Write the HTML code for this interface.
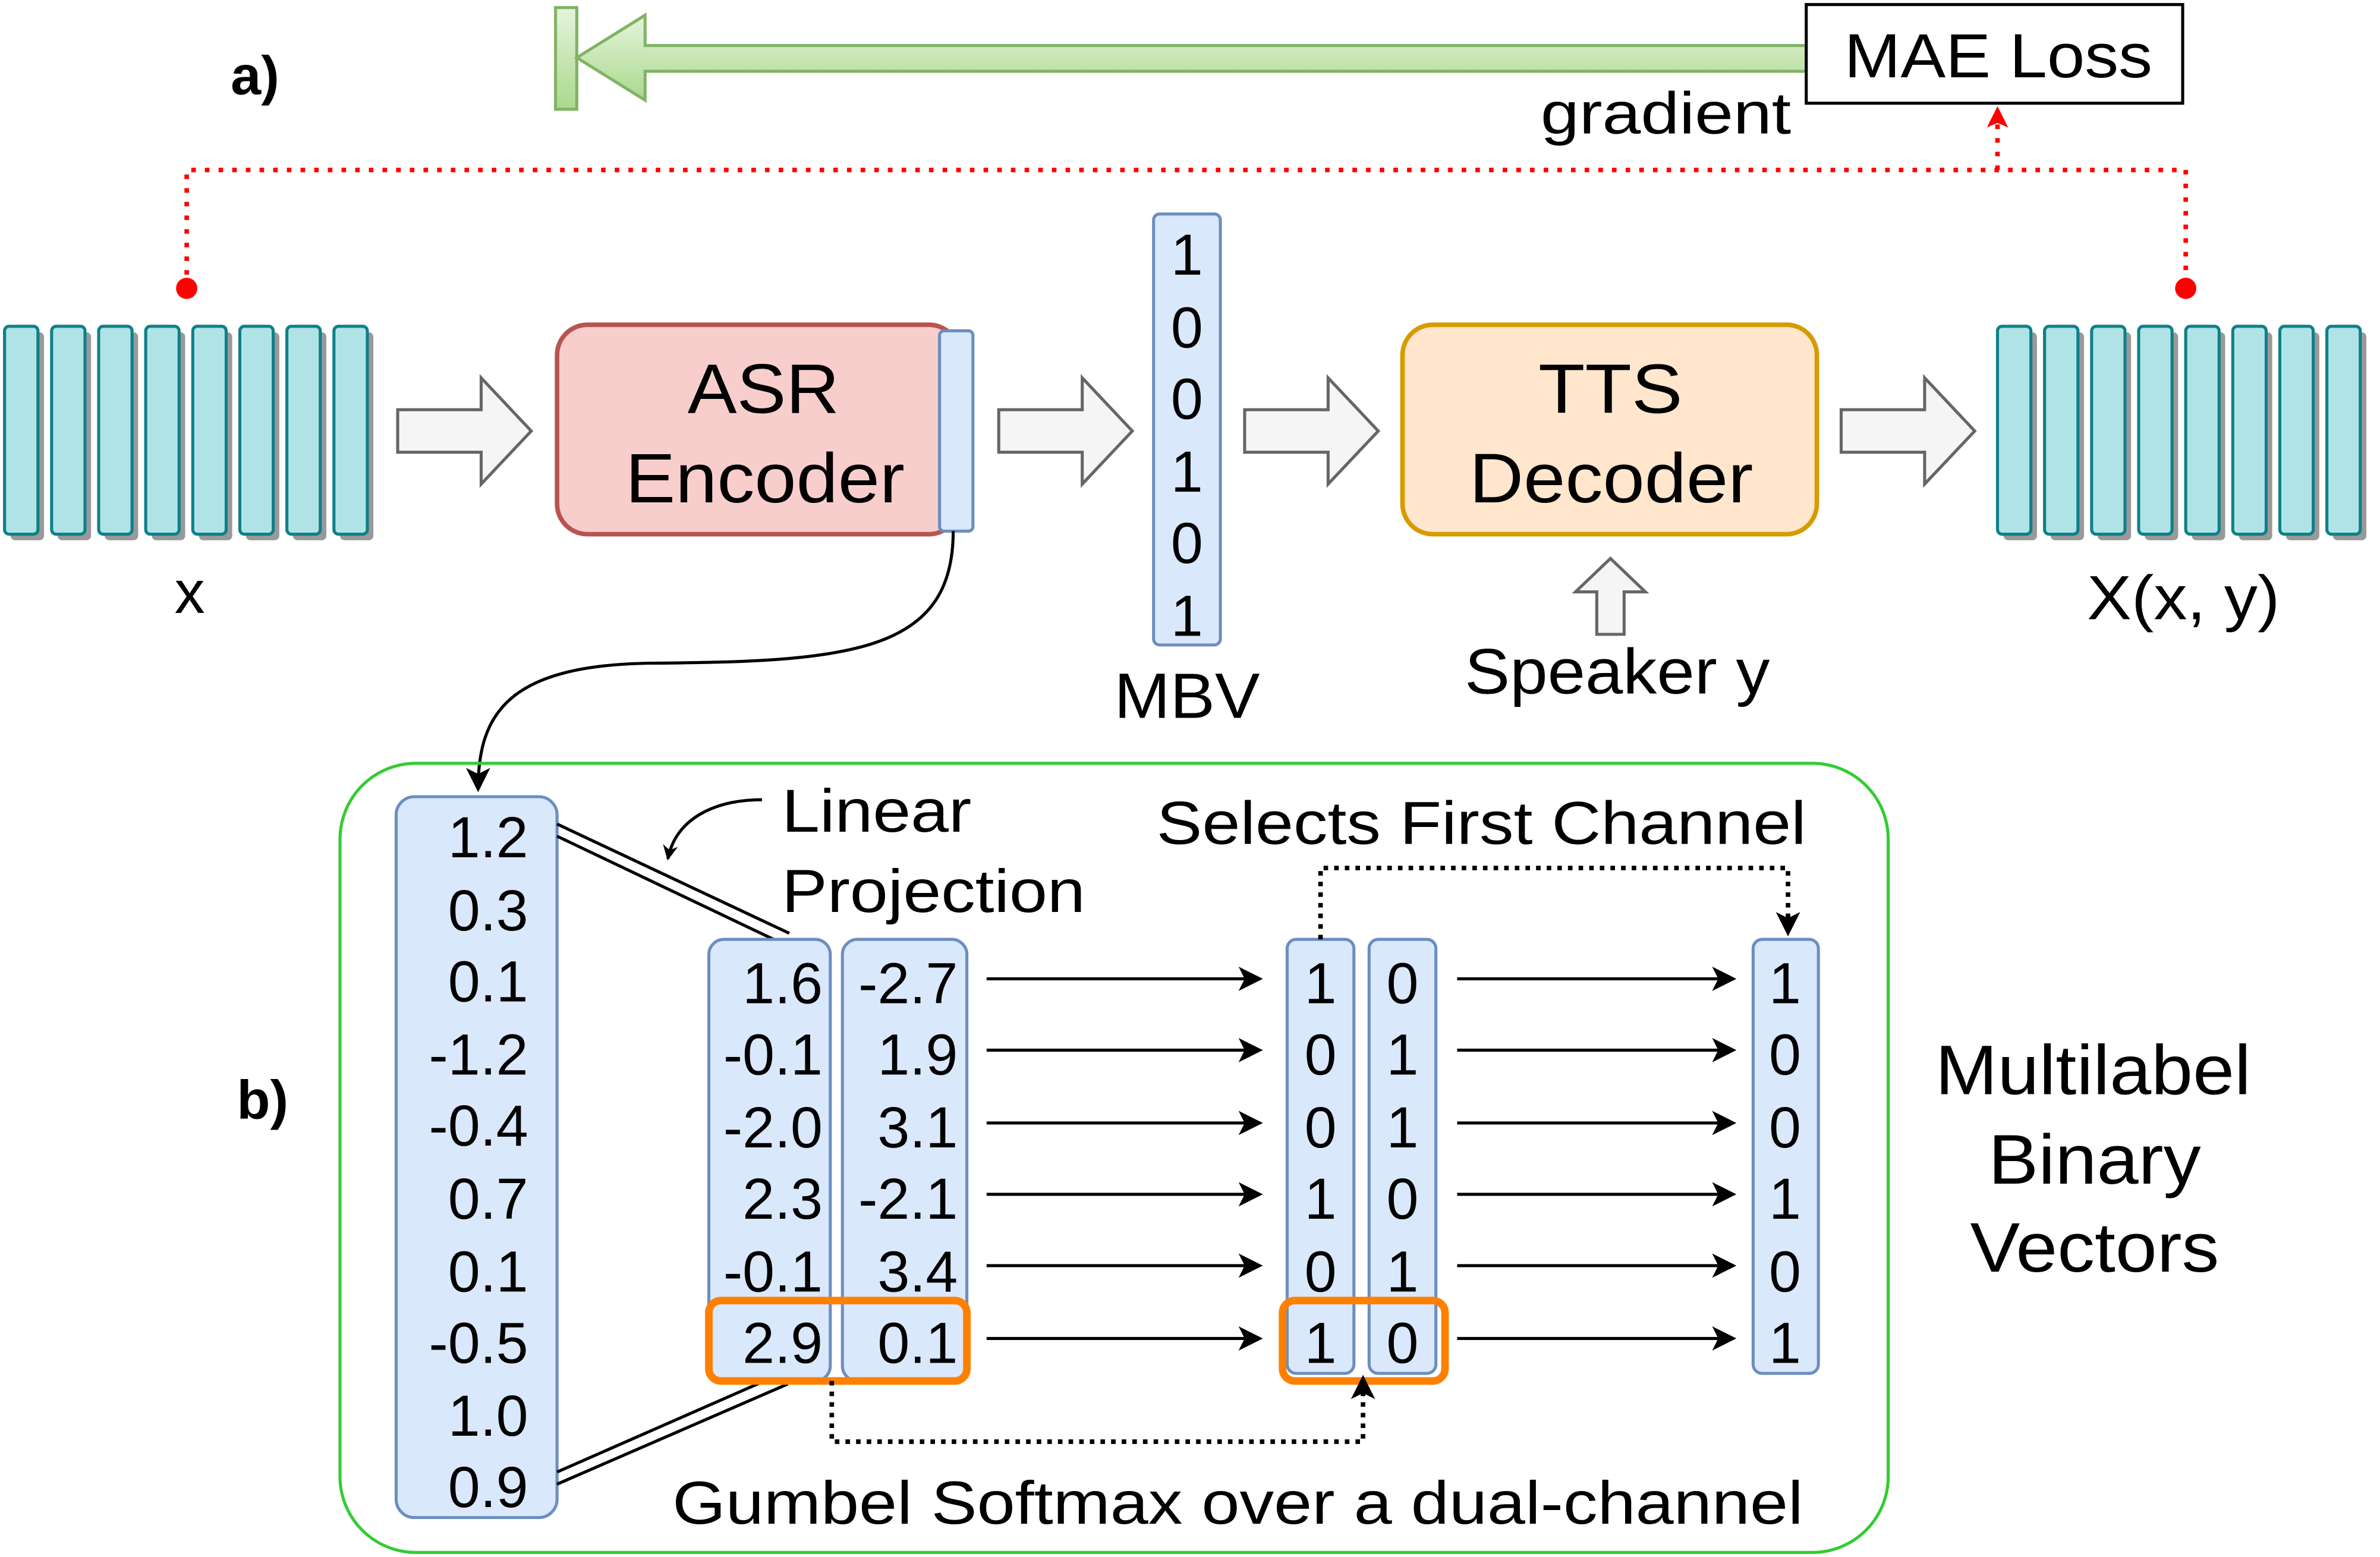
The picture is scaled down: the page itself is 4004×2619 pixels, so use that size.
<!DOCTYPE html>
<html><head><meta charset="utf-8"><style>
html,body{margin:0;padding:0;background:#fff;}
svg{display:block;}
text{font-family:"Liberation Sans",Arial,sans-serif;fill:#000;}
</style></head><body>
<svg width="4004" height="2619" viewBox="0 0 1568 1026" preserveAspectRatio="none" xmlns="http://www.w3.org/2000/svg">
<defs>
<linearGradient id="gg" x1="0" y1="0" x2="0" y2="1"><stop offset="0" stop-color="#e6f4dc"/><stop offset="1" stop-color="#a9d98c"/></linearGradient>
<marker id="ah" markerWidth="10" markerHeight="10" refX="9" refY="5" orient="auto" markerUnits="userSpaceOnUse"><path d="M0,0 L10,5 L0,10 L3,5 z" fill="#000"/></marker>
<marker id="ahb" markerWidth="16" markerHeight="16" refX="14" refY="8" orient="auto" markerUnits="userSpaceOnUse"><path d="M0,0 L16,8 L0,16 L4,8 z" fill="#000"/></marker>
<marker id="ahr" markerWidth="14" markerHeight="14" refX="12" refY="7" orient="auto" markerUnits="userSpaceOnUse"><path d="M0,0 L14,7 L0,14 L3,7 z" fill="#f00"/></marker>
<g id="bars">
  <g fill="#999"><rect x="7" y="219" width="22" height="137" rx="3"/><rect x="38" y="219" width="22" height="137" rx="3"/><rect x="69" y="219" width="22" height="137" rx="3"/><rect x="100" y="219" width="22" height="137" rx="3"/><rect x="131" y="219" width="22" height="137" rx="3"/><rect x="162" y="219" width="22" height="137" rx="3"/><rect x="193" y="219" width="22" height="137" rx="3"/><rect x="224" y="219" width="22" height="137" rx="3"/></g>
  <g fill="#b0e3e6" stroke="#0e8088" stroke-width="2"><rect x="3" y="215" width="22" height="137" rx="3"/><rect x="34" y="215" width="22" height="137" rx="3"/><rect x="65" y="215" width="22" height="137" rx="3"/><rect x="96" y="215" width="22" height="137" rx="3"/><rect x="127" y="215" width="22" height="137" rx="3"/><rect x="158" y="215" width="22" height="137" rx="3"/><rect x="189" y="215" width="22" height="137" rx="3"/><rect x="220" y="215" width="22" height="137" rx="3"/></g>
</g>
<path id="harr" d="M0,-14 L55,-14 L55,-35 L88,0 L55,35 L55,14 L0,14 z" fill="#f5f5f5" stroke="#666" stroke-width="2"/>
</defs>

<text x="152" y="62" font-size="36" font-weight="bold">a)</text>
<rect x="366" y="5" width="14" height="67" fill="url(#gg)" stroke="#82b366" stroke-width="2"/>
<path d="M1190,30 L425,30 L425,10 L380,38 L425,66 L425,47 L1190,47 z" fill="url(#gg)" stroke="#82b366" stroke-width="2"/>
<rect x="1190" y="3" width="248" height="65" fill="#fff" stroke="#000" stroke-width="2"/>
<text x="1215" y="51" font-size="41" textLength="203" lengthAdjust="spacingAndGlyphs">MAE Loss</text>
<text x="1015" y="88" font-size="39" textLength="165" lengthAdjust="spacingAndGlyphs">gradient</text>

<path d="M123,190 L123,112 L1440,112 L1440,190" fill="none" stroke="#f00" stroke-width="3" stroke-dasharray="3,6"/>
<path d="M1316,112 L1316,72" fill="none" stroke="#f00" stroke-width="3" stroke-dasharray="3,6" marker-end="url(#ahr)"/>
<circle cx="123" cy="190" r="7" fill="#f00"/><circle cx="1440" cy="190" r="7" fill="#f00"/>

<use href="#bars"/>
<use href="#bars" x="1313"/>
<text x="125" y="404" font-size="40" text-anchor="middle">x</text>
<text x="1375" y="408" font-size="41" textLength="127" lengthAdjust="spacingAndGlyphs">X(x, y)</text>

<use href="#harr" x="262" y="284"/>
<use href="#harr" x="658" y="284"/>
<use href="#harr" x="820" y="284"/>
<use href="#harr" x="1213" y="284"/>

<rect x="367" y="214" width="265" height="138" rx="20" fill="#f8cecc" stroke="#b85450" stroke-width="3"/>
<text x="503" y="272" font-size="46" text-anchor="middle" textLength="100" lengthAdjust="spacingAndGlyphs">ASR</text>
<text x="412" y="331" font-size="46" textLength="184" lengthAdjust="spacingAndGlyphs">Encoder</text>
<rect x="619" y="218" width="22" height="132" rx="3" fill="#dae8fc" stroke="#6c8ebf" stroke-width="2"/>

<rect x="760" y="141" width="44" height="284" rx="4" fill="#dae8fc" stroke="#6c8ebf" stroke-width="2"/>
<g font-size="38" text-anchor="middle"><text x="782" y="181">1</text><text x="782" y="229">0</text><text x="782" y="276">0</text><text x="782" y="324">1</text><text x="782" y="371">0</text><text x="782" y="419">1</text></g>
<text x="734" y="473" font-size="42" textLength="96" lengthAdjust="spacingAndGlyphs">MBV</text>

<rect x="924" y="214" width="273" height="138" rx="20" fill="#ffe6cc" stroke="#d79b00" stroke-width="3"/>
<text x="1061" y="272" font-size="46" text-anchor="middle" textLength="95" lengthAdjust="spacingAndGlyphs">TTS</text>
<text x="968" y="331" font-size="46" textLength="187" lengthAdjust="spacingAndGlyphs">Decoder</text>
<path d="M1052,418 L1052,390 L1038,390 L1061,368 L1084,390 L1070,390 L1070,418 z" fill="#f5f5f5" stroke="#666" stroke-width="2"/>
<text x="965" y="457" font-size="42" textLength="201" lengthAdjust="spacingAndGlyphs">Speaker y</text>

<path d="M628,350 C628,430 560,436 430,437 C335,438 315,470 315,520" fill="none" stroke="#000" stroke-width="2" marker-end="url(#ahb)"/>

<rect x="224" y="503" width="1020" height="520" rx="50" fill="none" stroke="#33cc33" stroke-width="2"/>
<text x="173" y="737" font-size="36" font-weight="bold" text-anchor="middle">b)</text>

<rect x="261" y="525" width="106" height="475" rx="12" fill="#dae8fc" stroke="#6c8ebf" stroke-width="2"/>
<g font-size="38" text-anchor="end">
<text x="348" y="565">1.2</text><text x="348" y="613">0.3</text><text x="348" y="660">0.1</text><text x="348" y="708">-1.2</text><text x="348" y="755">-0.4</text><text x="348" y="803">0.7</text><text x="348" y="851">0.1</text><text x="348" y="898">-0.5</text><text x="348" y="946">1.0</text><text x="348" y="993">0.9</text>
</g>
<g stroke="#000" stroke-width="2">
<line x1="367" y1="543" x2="520" y2="615"/><line x1="367" y1="551" x2="516" y2="622"/>
<line x1="367" y1="970" x2="515" y2="905"/><line x1="367" y1="978" x2="519" y2="912"/>
</g>
<text x="515" y="548" font-size="40" textLength="125" lengthAdjust="spacingAndGlyphs">Linear</text>
<text x="515" y="601" font-size="40" textLength="200" lengthAdjust="spacingAndGlyphs">Projection</text>
<path d="M502,527 C470,527 445,540 440,566" fill="none" stroke="#000" stroke-width="2" marker-end="url(#ah)"/>

<rect x="467" y="619" width="80" height="291" rx="10" fill="#dae8fc" stroke="#6c8ebf" stroke-width="2"/>
<rect x="555" y="619" width="82" height="291" rx="10" fill="#dae8fc" stroke="#6c8ebf" stroke-width="2"/>
<g font-size="38" text-anchor="end">
<text x="542" y="661">1.6</text><text x="542" y="708">-0.1</text><text x="542" y="756">-2.0</text><text x="542" y="803">2.3</text><text x="542" y="851">-0.1</text><text x="542" y="898">2.9</text>
<text x="631" y="661">-2.7</text><text x="631" y="708">1.9</text><text x="631" y="756">3.1</text><text x="631" y="803">-2.1</text><text x="631" y="851">3.4</text><text x="631" y="898">0.1</text>
</g>
<rect x="467" y="857" width="170" height="53" rx="8" fill="none" stroke="#ff8000" stroke-width="5"/>

<g stroke="#000" stroke-width="2">
<line x1="650" y1="645" x2="830" y2="645" marker-end="url(#ahb)"/><line x1="650" y1="692" x2="830" y2="692" marker-end="url(#ahb)"/><line x1="650" y1="740" x2="830" y2="740" marker-end="url(#ahb)"/><line x1="650" y1="787" x2="830" y2="787" marker-end="url(#ahb)"/><line x1="650" y1="834" x2="830" y2="834" marker-end="url(#ahb)"/><line x1="650" y1="882" x2="830" y2="882" marker-end="url(#ahb)"/>
<line x1="960" y1="645" x2="1142" y2="645" marker-end="url(#ahb)"/><line x1="960" y1="692" x2="1142" y2="692" marker-end="url(#ahb)"/><line x1="960" y1="740" x2="1142" y2="740" marker-end="url(#ahb)"/><line x1="960" y1="787" x2="1142" y2="787" marker-end="url(#ahb)"/><line x1="960" y1="834" x2="1142" y2="834" marker-end="url(#ahb)"/><line x1="960" y1="882" x2="1142" y2="882" marker-end="url(#ahb)"/>
</g>

<rect x="848" y="619" width="44" height="286" rx="6" fill="#dae8fc" stroke="#6c8ebf" stroke-width="2"/>
<rect x="902" y="619" width="44" height="286" rx="6" fill="#dae8fc" stroke="#6c8ebf" stroke-width="2"/>
<rect x="1155" y="619" width="43" height="286" rx="6" fill="#dae8fc" stroke="#6c8ebf" stroke-width="2"/>
<g font-size="38" text-anchor="middle">
<text x="870" y="661">1</text><text x="870" y="708">0</text><text x="870" y="756">0</text><text x="870" y="803">1</text><text x="870" y="851">0</text><text x="870" y="898">1</text>
<text x="924" y="661">0</text><text x="924" y="708">1</text><text x="924" y="756">1</text><text x="924" y="803">0</text><text x="924" y="851">1</text><text x="924" y="898">0</text>
<text x="1176" y="661">1</text><text x="1176" y="708">0</text><text x="1176" y="756">0</text><text x="1176" y="803">1</text><text x="1176" y="851">0</text><text x="1176" y="898">1</text>
</g>
<rect x="845" y="857" width="107" height="53" rx="8" fill="none" stroke="#ff8000" stroke-width="5"/>

<path d="M870,619 L870,572 L1178,572 L1178,615" fill="none" stroke="#000" stroke-width="3" stroke-dasharray="3,4" marker-end="url(#ahb)"/>
<path d="M548,910 L548,950 L898,950 L898,908" fill="none" stroke="#000" stroke-width="3" stroke-dasharray="3,4" marker-end="url(#ahb)"/>
<text x="762" y="556" font-size="40" textLength="428" lengthAdjust="spacingAndGlyphs">Selects First Channel</text>
<text x="443" y="1004" font-size="40" textLength="745" lengthAdjust="spacingAndGlyphs">Gumbel Softmax over a dual-channel</text>

<g font-size="46"><text x="1275" y="721" textLength="208" lengthAdjust="spacingAndGlyphs">Multilabel</text><text x="1310" y="780" textLength="140" lengthAdjust="spacingAndGlyphs">Binary</text><text x="1298" y="838" textLength="164" lengthAdjust="spacingAndGlyphs">Vectors</text></g>
</svg>
</body></html>
